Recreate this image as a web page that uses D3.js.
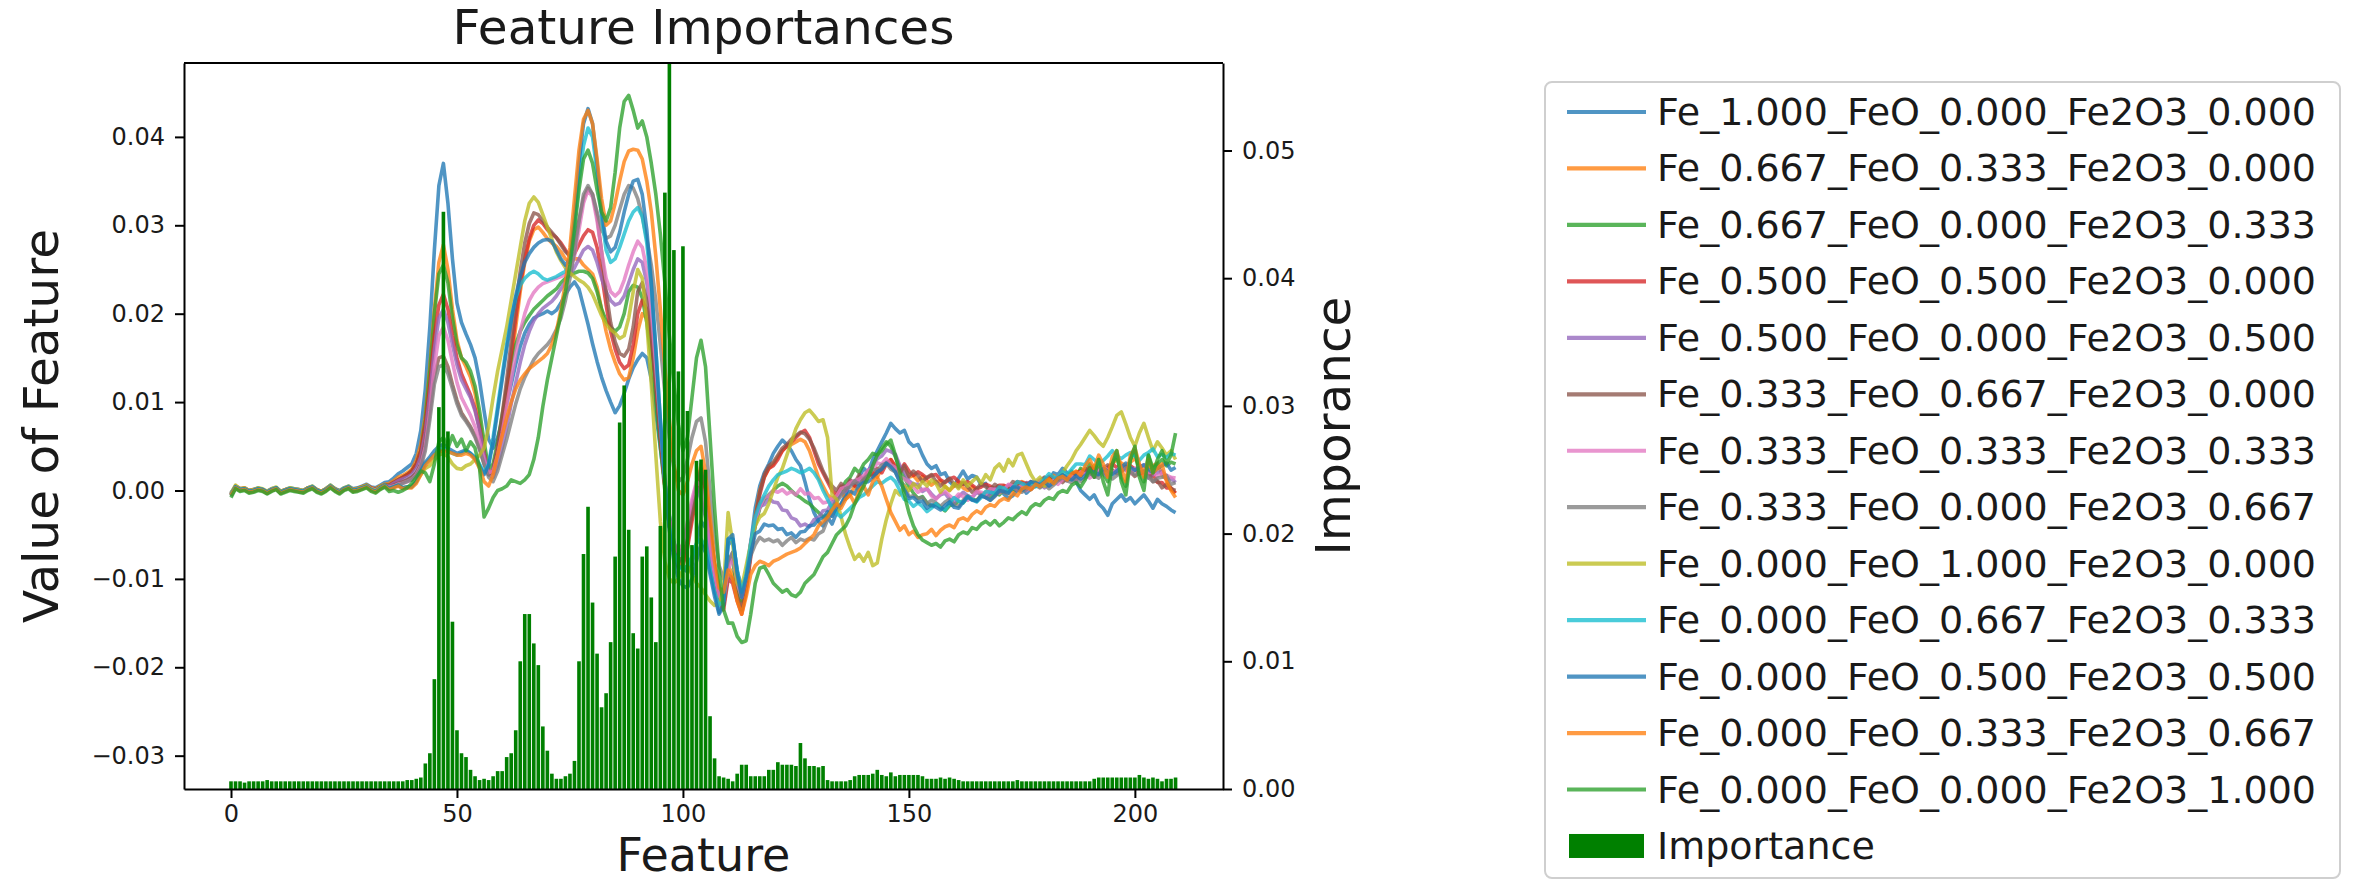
<!DOCTYPE html>
<html>
<head>
<meta charset="utf-8">
<script src="https://cdn.jsdelivr.net/npm/d3@7"></script>
<style>
  body { margin: 0; background: #fff; }
  svg { display: block; }
  text { font-family: "DejaVu Sans", sans-serif; fill: #1a1a1a; }
</style>
</head>
<body>
<svg id="chart" width="2353" height="882"></svg>
<script>
// Feature values are stored in units of 1e-4 (index = feature number 0..209).
const UNIT = 1e-4;

const seriesLabels = [
  "Fe_1.000_FeO_0.000_Fe2O3_0.000",
  "Fe_0.667_FeO_0.333_Fe2O3_0.000",
  "Fe_0.667_FeO_0.000_Fe2O3_0.333",
  "Fe_0.500_FeO_0.500_Fe2O3_0.000",
  "Fe_0.500_FeO_0.000_Fe2O3_0.500",
  "Fe_0.333_FeO_0.667_Fe2O3_0.000",
  "Fe_0.333_FeO_0.333_Fe2O3_0.333",
  "Fe_0.333_FeO_0.000_Fe2O3_0.667",
  "Fe_0.000_FeO_1.000_Fe2O3_0.000",
  "Fe_0.000_FeO_0.667_Fe2O3_0.333",
  "Fe_0.000_FeO_0.500_Fe2O3_0.500",
  "Fe_0.000_FeO_0.333_Fe2O3_0.667",
  "Fe_0.000_FeO_0.000_Fe2O3_1.000"
];

const fe100 = [
  -3,5,2,2,0,1,3,1,-1,2, 3,-1,1,3,2,1,0,3,5,1, -1,2,6,2,0,3,5,2,3,5, 7,4,3,6,9,10,14,19,22,26,
  30,42,68,115,185,272,345,370,325,262, 212,190,177,165,150,124,90,58,48,60, 78,98,120,143,163,178,188,195,198,200,
  203,200,204,212,222,230,236,228,208,188, 166,146,128,113,100,88,96,110,126,139, 148,155,150,126,88,48,8,-28,-58,-78,
  -88,-92,-84,-60,-35,-42,-78,-112,-138,-128, -62,
  -55,-90,-120,-100,-60,-20,5,20,30,42, 50,57,52,45,35,28,10,-10,-25,-35, -40,-30,-38,-25,-15,-5,10,5,15,25,
  20,35,45,55,65,76,70,65,68,55, 50,52,40,30,25,28,18,20,10,5, 14,22,13,17,15,6,8,-3,1,4,
  -4,-9,-6,1,4,-3,2,9,7,14, 10,20,18,25,20,15,10,0,-5,-10, -5,-15,-20,-28,-15,-10,-5,-12,-8,-15,
  -10,-5,-12,-20,-10,-15,-18,-22,-25
];
const fe067feo033 = [
  -5,4,1,1,-1,0,2,0,-2,1, 2,-2,0,2,1,0,-1,2,4,0, -2,1,5,1,-1,2,4,1,2,4, 6,3,2,5,7,8,11,15,17,20,
  24,34,52,85,140,205,258,278,250,205, 170,150,140,128,110,80,45,18,20,40, 70,105,145,185,225,258,282,295,298,292,
  285,280,276,270,262,258,262,262,255,250, 245,230,205,180,160,145,132,125,128,150, 180,200,195,170,120,60,5,-40,-70,-85,
  -80,-60,-30,0,30,10,-40,-85,-115,-125, -85,
  -95,-115,-130,-110,-70,-30,0,15,25,30, 38,45,50,52,55,58,55,45,30,15, 5,-5,-10,-5,0,-10,-5,5,0,10,
  15,20,15,25,30,35,25,20,25,
  15,17,11,16,11,6,10,11,4,0, 5,9,3,0,4,0,-5,-2,3,1, -2,5,4,0,4,10,8,5,9,4,
  7,12,17,14,11,17,13,18,23,22, 20,28,25,21,25,30,35,31,28,32, 36,29,24,26,28,31,17,13,1,-3
];
const fe067fe2o3033 = [
  -6,3,0,1,-2,-1,1,0,-3,0, 2,-3,-1,1,0,-1,-2,1,3,-1, -3,0,4,0,-2,1,3,0,1,3, 5,2,1,4,6,6,9,12,15,18,
  22,30,45,80,135,200,245,255,235,195, 165,150,145,135,118,90,55,25,30,55, 85,115,145,165,180,190,198,205,210,215,
  220,224,228,235,240,244,246,248,248,246, 240,225,205,192,185,180,185,200,225,232, 230,218,190,150,100,50,0,-40,-70,-80,
  -75,-55,-25,5,20,0,-45,-85,-110,-115, -75,
  -80,-110,-125,-100,-70,-40,-20,-10,-5,0, 5,8,5,0,-5,-8,-12,-15,-20,-25, -30,-28,-20,-10,0,10,15,25,20,30,
  35,42,40,48,55,50,38,25,15,
  5,-3,-9,-7,-14,-18,-15,-19,-23,-17, -16,-12,-14,-8,-10,-11,-6,-4,-7,-3, -5,1,-1,2,0,4,7,5,9,8,
  11,14,10,15,17,16,22,15,25,20, 30,22,35,20,10,30,40,15,5,35, 45,20,10,40,25,30,35,28,32,30
];
const fe050feo050 = [
  -4,5,2,3,0,1,2,1,-2,1, 3,-1,1,2,1,0,0,3,4,1, -1,2,5,2,-1,2,4,1,2,4, 6,3,1,4,6,6,9,12,15,18,
  22,30,45,75,120,175,210,222,205,175, 150,132,120,108,92,70,42,20,22,45, 78,115,155,195,232,262,285,300,306,302,
  295,290,286,280,272,265,268,278,288,295, 292,275,245,210,180,160,145,138,142,165, 200,215,205,175,120,60,5,-40,-72,-88,
  -85,-65,-35,-5,15,-5,-50,-95,-125,-135, -100,
  -105,-125,-140,-115,-75,-35,-5,15,25,28, 35,45,50,55,60,65,68,60,45,30, 20,10,0,-5,5,0,10,5,15,10,
  20,18,25,20,30,35,28,22,30,
  22,17,21,18,14,17,18,12,9,13, 15,10,7,10,6,2,4,7,5,2, 6,6,3,5,10,9,7,10,6,9,
  12,16,13,12,17,14,17,21,21,19, 26,23,20,22,26,30,26,23,26,28, 24,19,20,19,19,9,9,3,3,-3
];
const fe050fe2o3050 = [
  -3,4,1,2,-1,0,2,1,-1,2, 3,-2,0,2,2,1,-1,2,4,0, -2,1,5,1,-1,2,4,0,2,3, 5,2,1,3,5,5,8,11,13,15,
  18,25,38,65,108,160,195,205,190,165, 142,125,115,105,90,68,40,18,15,28, 48,72,98,122,145,165,180,192,200,206,
  210,214,220,228,236,244,252,262,272,276, 272,258,240,225,215,210,212,220,235,250, 262,258,235,195,135,70,10,-35,-65,-75,
  -65,-40,-15,5,-10,-30,-60,-95,-115,-120, -85,
  -70,-102,-113,-96,-58,-37,-18,-16,-9,-13, -14,-22,-23,-31,-33,-40,-38,-41,-33,-31, -23,-22,-13,-11,-3,-1,7,9,10,14,
  23,28,36,39,46,44,41,28,21,
  11,7,7,-1,2,-4,-9,-5,-3,-10, -14,-7,-2,-6,-8,-2,-5,-8,-4,2, 1,-1,6,4,0,4,9,8,5,8,
  3,7,12,16,13,11,16,12,16,21, 20,16,24,20,16,19,23,28,23,20, 23,25,19,14,18,20,22,13,14,9
];
const fe033feo067 = [
  -5,3,1,2,-1,0,1,1,-2,0, 2,-2,0,1,1,-1,-1,2,3,0, -2,1,4,1,-2,1,3,0,1,3, 4,1,0,3,5,4,6,8,10,12,
  15,20,30,55,90,130,150,152,140,120, 102,88,80,72,62,48,30,18,25,50, 85,125,168,210,248,280,302,314,312,305,
  298,292,286,278,270,265,280,305,330,342, 335,310,270,225,190,168,155,152,160,185, 225,235,215,175,120,60,5,-40,-70,-82,
  -75,-55,-25,5,25,5,-40,-85,-120,-130, -95,
  -100,-120,-135,-110,-70,-30,-2,18,28,32, 40,48,52,58,62,66,64,58,48,35, 22,12,5,0,8,3,12,8,18,12,
  22,15,20,25,32,30,25,20,28,
  16,22,17,10,15,18,10,5,10,14, 7,4,9,4,-2,2,8,4,1,7, 4,-1,3,10,8,4,8,1,6,11,
  15,10,8,14,9,14,20,18,16,25, 21,15,19,25,29,23,19,22,27,21, 16,20,21,22,10,11,3,7,2,0
];
const fe033feo033fe2o3033 = [
  -4,4,2,2,0,0,2,1,-2,1, 3,-2,0,2,1,0,-1,2,4,0, -2,1,5,1,-2,2,4,0,1,3, 5,2,0,3,5,4,5,7,8,10,
  12,18,28,50,90,140,175,185,170,145, 122,105,95,85,72,55,35,20,22,40, 65,95,125,155,180,200,215,224,230,234,
  236,238,240,242,244,248,265,295,325,340, 332,305,270,240,225,220,225,238,255,270, 282,275,250,205,140,75,15,-30,-60,-70,
  -60,-35,-10,10,5,-20,-60,-95,-120,-125, -90,
  -75,-104,-121,-98,-66,-33,-19,-8,-6,0, -2,1,-4,-1,-5,2,-4,-3,-9,-8, -14,-13,-9,-6,2,4,9,11,13,17,
  23,24,31,30,36,29,26,16,13,
  9,4,-2,1,2,-6,-10,-4,-1,-6, -10,-4,-7,-11,-7,-1,-2,-4,2,1, -3,1,7,5,2,6,0,4,9,12,
  8,6,11,7,12,17,16,13,21,18, 14,18,22,27,23,20,23,27,23,19, 25,27,29,20,21,16,20,17,15,14
];
const fe033fe2o3067 = [
  -6,3,0,1,-1,-1,1,0,-3,0, 2,-3,-1,1,0,-1,-2,1,3,-1, -3,0,4,0,-3,1,3,-1,0,2, 4,1,-1,2,4,3,4,6,8,10,
  12,17,26,45,80,120,140,142,132,115, 98,85,78,70,60,46,30,15,10,22, 40,58,78,98,115,128,138,148,155,160,
  165,172,182,195,215,240,270,305,335,345, 335,315,295,285,288,300,318,335,345,342, 330,310,285,255,215,165,110,60,25,10,
  15,35,60,78,82,55,0,-50,-85,-100, -80,
  -70,-92,-108,-101,-74,-61,-53,-57,-55,-58, -56,-62,-57,-53,-59,-55,-57,-54,-56,-49, -46,-33,-27,-13,-6,2,4,11,6,13,
  17,24,23,29,31,24,21,11,6,
  -7,-6,-9,-8,-15,-11,-14,-18,-13,-10, -16,-18,-11,-6,-10,-12,-5,-8,-11,-7, -1,-2,-4,3,2,-2,1,7,6,3,
  7,2,6,11,15,11,9,14,10,14, 19,17,14,21,18,13,17,21,26,21, 18,20,22,15,10,14,15,17,7,9
];
const feo100 = [
  -3,6,2,3,0,1,3,2,-1,2, 4,-1,1,3,2,1,0,3,5,1, -1,2,6,2,-1,3,5,1,2,4, 6,2,0,4,6,2,4,6,3,4,
  5,10,18,25,28,35,40,42,38,30, 25,24,28,30,35,40,48,72,105,135, 160,185,215,245,275,305,325,332,326,312,
  298,284,270,260,252,246,242,238,235,230, 222,210,198,188,182,178,172,175,195,225, 250,240,190,120,40,-35,-80,-100,-105,-100,
  -90,-85,-95,-105,-110,-118,-125,-130,-128,-110, -25,
  -60,-105,-110,-85,-60,-40,-30,-26,-15,0, 15,25,40,55,70,80,88,91,85,78, 80,60,-5,-10,-30,-50,-65,-78,-72,-80,
  -70,-85,-82,-55,-33,-15,0,-5,5,0, 8,3,10,5,12,8,-2,5,0,8, 2,12,5,10,15,8,18,12,25,30,
  22,35,28,40,42,30,18,10,15,5, 12,8,15,20,28,35,45,52,60,68, 62,55,50,60,72,85,89,75,60,50,
  65,76,60,45,55,48,40,45,35
];
const feo067fe2o3033 = [
  -4,4,1,2,-1,0,2,1,-2,1, 3,-2,0,2,1,0,-1,2,4,0, -2,1,5,1,-2,2,4,0,1,3, 5,1,-1,3,6,2,4,6,3,4,
  4,10,20,30,35,40,45,48,45,42, 40,42,45,42,38,30,20,30,60,95, 130,165,195,218,232,240,245,248,245,240,
  238,240,242,245,248,260,300,350,390,410, 400,360,310,272,258,262,275,290,305,315, 320,310,280,230,160,80,10,-40,-70,-85,
  -90,-85,-75,-60,-55,-65,-90,-115,-130,-125, -55,
  -55,-90,-115,-95,-60,-30,-15,-5,5,12, 18,20,22,25,23,20,22,25,20,12, 0,-10,-20,-26,-30,-25,-20,-15,-8,-5,
  0,5,10,8,12,15,10,0,-10,
  -12,-18,-14,-18,-24,-20,-15,-20,-22,-14, -8,-12,-14,-7,-10,-13,-8,-1,-2,-3, 4,3,-1,3,10,8,5,9,4,8,
  13,19,15,15,21,18,24,30,30,29, 39,35,30,34,39,45,39,36,40,43, 39,34,40,43,47,38,41,37,42,40
];
const feo050fe2o3050 = [
  -5,4,1,2,-1,0,2,1,-2,1, 3,-2,0,2,1,0,-1,2,4,0, -2,1,5,1,-2,2,4,0,1,3, 5,1,-1,3,6,2,4,6,3,4,
  4,10,22,32,38,45,50,52,48,45, 42,44,46,42,36,28,18,28,55,90, 125,160,192,220,242,258,268,275,280,283,
  284,282,272,262,255,262,310,370,415,432, 415,370,315,282,270,275,292,315,335,350, 352,335,295,235,160,80,10,-45,-80,-100,
  -108,-110,-100,-80,-60,-70,-95,-120,-140,-130, -55,
  -50,-94,-121,-98,-71,-49,-46,-38,-40,-39, -44,-43,-50,-48,-53,-47,-46,-40,-39,-33, -31,-24,-29,-19,-16,-7,-1,-4,6,9,
  10,14,21,24,31,27,21,9,1,
  -9,-8,-13,-12,-20,-16,-19,-22,-17,-13, -19,-20,-13,-7,-11,-12,-6,-8,-11,-6, 0,-1,-3,4,4,0,4,10,9,6,
  10,5,9,14,18,14,12,17,13,17, 22,21,18,25,22,18,22,26,31,26, 23,26,29,24,20,25,28,31,23,26
];
const feo033fe2o3067 = [
  -5,3,0,1,-2,-1,1,0,-3,0, 2,-3,-1,1,0,-1,-2,1,3,-1, -3,0,4,0,-3,1,3,-1,0,2, 4,0,-2,2,5,1,3,5,2,3,
  3,8,18,28,34,40,44,45,44,42, 40,40,42,40,35,25,10,5,18,40, 62,82,100,115,125,132,138,142,146,150,
  155,165,180,205,235,275,330,385,420,430, 415,375,330,300,305,325,350,372,384,386, 385,375,350,315,265,205,140,80,30,0,
  -5,10,30,45,50,20,-30,-80,-110,-115, -90,
  -100,-125,-140,-120,-95,-85,-80,-82,-85,-80, -78,-75,-72,-70,-68,-65,-60,-55,-50,-40, -35,-30,-22,-15,-20,-10,-5,-15,0,5,
  -5,10,15,5,-10,-25,-35,-45,-40,
  -50,-46,-53,-50,-49,-44,-51,-45,-41,-39, -42,-33,-31,-34,-27,-23,-26,-19,-16,-18, -12,-9,-11,-3,-6,2,4,1,7,5,
  9,13,8,14,16,12,19,22,17,28, 35,25,40,30,15,38,45,25,10,40, 48,30,15,35,20,25,30,10,0,-8
];
const fe2o3100 = [
  -8,2,-1,0,-3,-2,0,-1,-4,-1, 1,-4,-2,0,-1,-2,-3,0,2,-2, -4,-1,3,-1,-4,0,2,-2,-1,1, 3,-1,-3,1,4,-1,0,-2,0,3,
  8,15,22,20,10,30,55,60,48,62, 50,58,45,55,48,25,-30,-20,-8,0, 2,5,12,10,8,12,18,35,60,95,
  125,150,175,200,225,255,295,340,375,385, 370,340,315,305,320,360,410,440,447,430, 410,418,400,370,335,290,235,175,120,75,
  45,60,105,150,170,140,60,-20,-90,-135, -150,
  -150,-165,-172,-170,-140,-105,-88,-86,-95,-105, -110,-115,-112,-118,-120,-115,-105,-100,-95,-85, -75,-70,-60,-50,-45,-40,-30,-15,-5,5,
  15,28,40,45,52,57,40,20,-5,
  -25,-40,-50,-56,-59,-62,-60,-64,-57,-55, -58,-50,-47,-49,-42,-44,-38,-35,-39,-34, -40,-36,-31,-33,-28,-24,-27,-19,-15,-17,
  -11,-8,-10,-3,0,-2,6,9,4,12, 25,15,35,10,-5,30,45,10,-5,35, 50,15,0,40,20,35,45,30,40,65
];

// Feature importance per feature (units of 1e-4), drawn against the right axis.
const importance = [
  6,6,6,5,6,6,6,6,7,6, 6,6,6,6,6,6,6,6,6,6, 6,6,6,6,6,6,6,6,6,6, 6,6,6,6,6,6,6,6,6,7,
  7,8,9,20,28,86,299,452,280,131, 46,28,25,15,10,7,8,7,10,14, 14,25,28,46,100,137,137,114,97,49,
  30,12,8,8,10,12,22,100,184,221, 146,106,64,75,115,182,287,316,203,122, 110,182,190,150,115,206,467,620,422,327,
  425,296,191,257,258,250,57,24,10,9, 8,6,12,19,19,10,10,10,10,15, 15,21,19,19,19,18,36,24,18,18,
  17,18,7,6,6,6,6,7,10,11, 11,11,12,15,11,10,13,10,11,11, 11,11,11,10,8,8,8,9,8,9,
  8,7,6,6,6,6,6,6,6,6, 6,6,6,6,7,6,6,6,6,6, 6,6,6,6,6,6,6,6,6,6,
  6,8,9,9,9,9,9,9,9,9, 9,11,9,8,9,8,6,8,8,9
];

const seriesValues = [
  fe100, fe067feo033, fe067fe2o3033, fe050feo050, fe050fe2o3050, fe033feo067,
  fe033feo033fe2o3033, fe033fe2o3067, feo100, feo067fe2o3033, feo050fe2o3050,
  feo033fe2o3067, fe2o3100
];

const xTickValues = [0, 50, 100, 150, 200];
const leftTickValues = [-0.03, -0.02, -0.01, 0.00, 0.01, 0.02, 0.03, 0.04];
const rightTickValues = [0.00, 0.01, 0.02, 0.03, 0.04, 0.05];

const titleText = "Feature Importances";
const xLabelText = "Feature";
const leftLabelText = "Value of Feature";
const rightLabelText = "Imporance";
const barLabel = "Importance";

// ---- layout ----
const plot = { left: 184, right: 1223, top: 63, bottom: 789 };
const colors = d3.schemeCategory10;
const barColor = "#008000";
const labelSize = 48.5;

const svg = d3.select("#chart");

const x = d3.scaleLinear().domain([-10.4, 219.5]).range([plot.left, plot.right]);
const yLeft = d3.scaleLinear().domain([-0.03377, 0.04836]).range([plot.bottom, plot.top]);
const yRight = d3.scaleLinear().domain([0, 0.05685]).range([plot.bottom, plot.top]);

svg.append("defs").append("clipPath").attr("id", "plot-clip")
  .append("rect")
  .attr("x", plot.left).attr("y", plot.top)
  .attr("width", plot.right - plot.left).attr("height", plot.bottom - plot.top);

// feature value lines
const line = d3.line()
  .x((d, i) => x(i))
  .y(d => yLeft(d * UNIT));

const linesG = svg.append("g").attr("clip-path", "url(#plot-clip)");
seriesValues.forEach((vals, k) => {
  linesG.append("path")
    .datum(vals)
    .attr("d", line)
    .attr("fill", "none")
    .attr("stroke", colors[k % 10])
    .attr("stroke-opacity", 0.78)
    .attr("stroke-width", 3.6)
    .attr("stroke-linejoin", "round");
});

// importance bars (twin axis, drawn above the lines)
const barsG = svg.append("g").attr("clip-path", "url(#plot-clip)");
barsG.selectAll("rect")
  .data(importance)
  .join("rect")
  .attr("x", (d, i) => x(i - 0.4))
  .attr("width", (d, i) => x(i + 0.4) - x(i - 0.4))
  .attr("y", d => yRight(d * UNIT))
  .attr("height", d => yRight(0) - yRight(d * UNIT))
  .attr("fill", barColor);

// axes
const tickFmt2 = d3.format(".2f");
function styleAxis(g) {
  g.attr("font-family", "DejaVu Sans").attr("font-size", 24);
  g.selectAll("path.domain").attr("stroke", "#000").attr("stroke-width", 2);
  g.selectAll(".tick line").attr("stroke", "#000").attr("stroke-width", 2);
  g.selectAll(".tick text").attr("fill", "#1a1a1a");
}

svg.append("g")
  .attr("transform", `translate(${plot.left},0)`)
  .call(d3.axisLeft(yLeft).tickValues(leftTickValues).tickFormat(tickFmt2)
    .tickSize(9).tickSizeOuter(0).tickPadding(10))
  .call(styleAxis);

svg.append("g")
  .attr("transform", `translate(${plot.right},0)`)
  .call(d3.axisRight(yRight).tickValues(rightTickValues).tickFormat(tickFmt2)
    .tickSize(9).tickSizeOuter(0).tickPadding(10))
  .call(styleAxis);

svg.append("g")
  .attr("transform", `translate(0,${plot.bottom})`)
  .call(d3.axisBottom(x).tickValues(xTickValues).tickFormat(d3.format("d"))
    .tickSize(9).tickSizeOuter(0).tickPadding(7))
  .call(styleAxis);

svg.append("line")
  .attr("x1", plot.left).attr("x2", plot.right)
  .attr("y1", plot.top).attr("y2", plot.top)
  .attr("stroke", "#000").attr("stroke-width", 2);

// titles and axis labels
const midX = (plot.left + plot.right) / 2;
const midY = (plot.top + plot.bottom) / 2;

svg.append("text")
  .attr("x", midX).attr("y", 44)
  .attr("text-anchor", "middle").attr("font-size", labelSize)
  .text(titleText);

svg.append("text")
  .attr("x", midX).attr("y", 871)
  .attr("text-anchor", "middle").attr("font-size", 46)
  .text(xLabelText);

svg.append("text")
  .attr("transform", `translate(58,${midY}) rotate(-90)`)
  .attr("text-anchor", "middle").attr("font-size", labelSize)
  .text(leftLabelText);

svg.append("text")
  .attr("transform", `translate(1350,${midY}) rotate(-90)`)
  .attr("text-anchor", "middle").attr("font-size", labelSize)
  .text(rightLabelText);

// legend
const legend = { x: 1545, y: 82, w: 795, h: 796, rowTop: 112, rowStep: 56.46, textX: 1657, fontSize: 38 };
const lg = svg.append("g");
lg.append("rect")
  .attr("x", legend.x).attr("y", legend.y)
  .attr("width", legend.w).attr("height", legend.h)
  .attr("rx", 7).attr("ry", 7)
  .attr("fill", "#fff").attr("stroke", "#cfcfcf").attr("stroke-width", 2);

seriesLabels.forEach((label, k) => {
  const cy = legend.rowTop + k * legend.rowStep;
  lg.append("line")
    .attr("x1", 1567).attr("x2", 1646)
    .attr("y1", cy).attr("y2", cy)
    .attr("stroke", colors[k % 10]).attr("stroke-opacity", 0.78)
    .attr("stroke-width", 4.2);
  lg.append("text")
    .attr("x", legend.textX).attr("y", cy + 13)
    .attr("font-size", legend.fontSize)
    .text(label);
});

const barRowY = legend.rowTop + seriesLabels.length * legend.rowStep;
lg.append("rect")
  .attr("x", 1569).attr("y", barRowY - 12)
  .attr("width", 75).attr("height", 24)
  .attr("fill", barColor);
lg.append("text")
  .attr("x", legend.textX).attr("y", barRowY + 13)
  .attr("font-size", legend.fontSize)
  .text(barLabel);
</script>
</body>
</html>
